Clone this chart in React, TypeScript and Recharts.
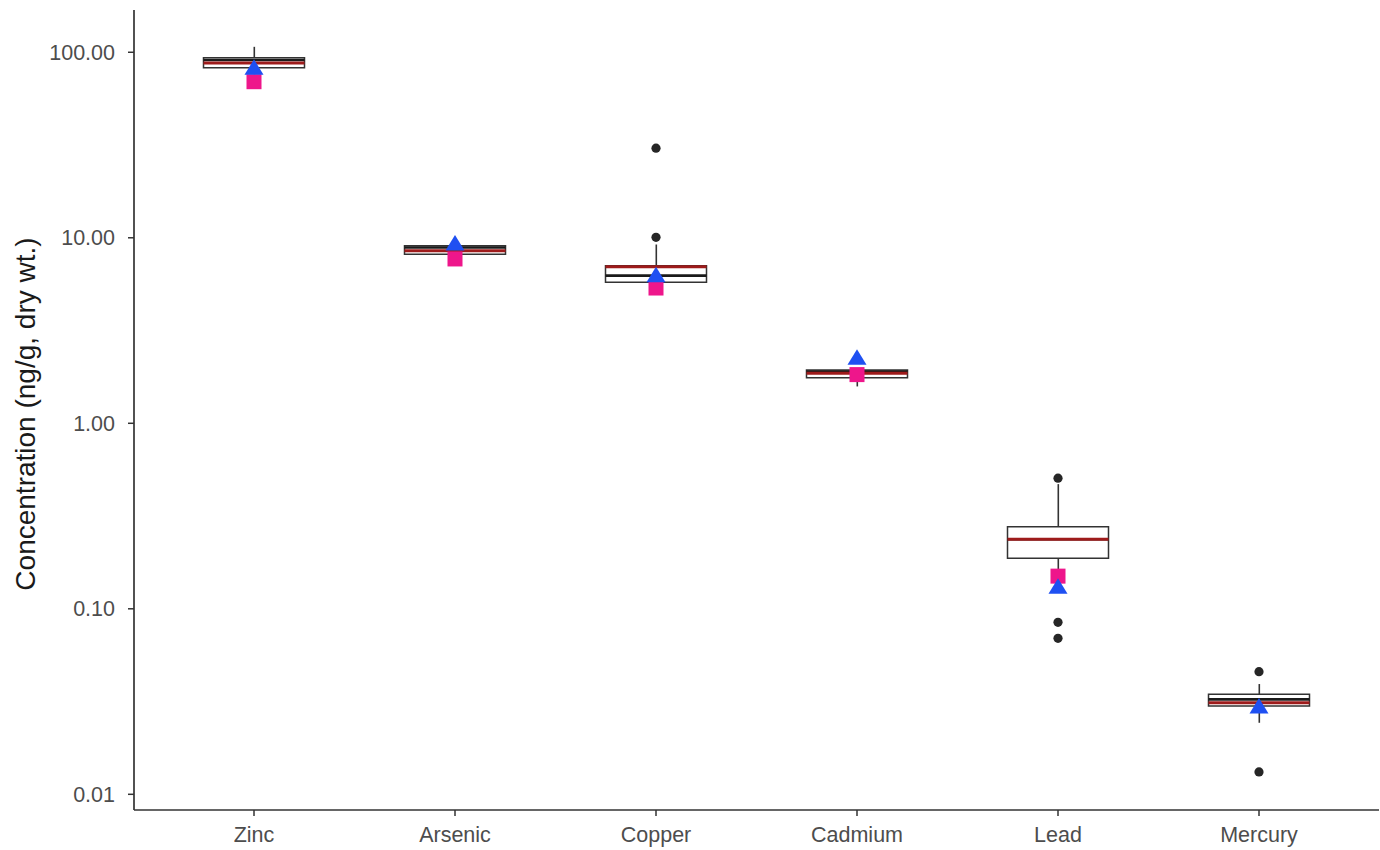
import { ComposedChart, Bar, Scatter, XAxis, YAxis } from 'recharts';

// Trace metal concentrations, ng/g dry weight, summarised per element
const metals = ['Zinc', 'Arsenic', 'Copper', 'Cadmium', 'Lead', 'Mercury'];
const whiskerLow = [76, 8.15, 5.2, 1.58, 0.145, 0.0243];
const quart1 = [82.6, 8.15, 5.75, 1.76, 0.187, 0.0299];
const medians = [90.8, 8.87, 6.25, 1.9, 0.237, 0.0325];
const means = [87.5, 8.52, 6.98, 1.86, 0.237, 0.0312];
const quart3 = [93.5, 9.06, 7.07, 1.94, 0.277, 0.0346];
const whiskerHigh = [107, 9.06, 9.2, 1.96, 0.47, 0.0393];

// points beyond the whiskers
const outlierA = [null, null, 30.4, null, 0.506, 0.0458];
const outlierB = [null, null, 10.06, null, 0.0845, 0.0132];
const outlierC = [null, null, null, null, 0.0693, null];

// comparison values from other studies
const studySquare = [69.4, 7.69, 5.36, 1.83, 0.15, null];
const studyTriangle = [82.1, 9.26, 6.25, 2.24, 0.1306, 0.0296];

const yTicks = [0.01, 0.1, 1, 10, 100];

const data = metals.map((metal, i) => ({
  metal,
  lo: whiskerLow[i],
  q1: quart1[i],
  median: medians[i],
  mean: means[i],
  q3: quart3[i],
  hi: whiskerHigh[i],
  o1: outlierA[i],
  o2: outlierB[i],
  o3: outlierC[i],
  sq: studySquare[i],
  tri: studyTriangle[i],
}));

const BOX_W = 101;
const INK = '#333333';
const axisTick = { fontSize: 21.5, fill: '#4d4d4d' };

const ok = (v: any) => typeof v === 'number' && isFinite(v);

const hLine = (color: string, width: number) => (props: any) => {
  const { cx, cy } = props;
  if (!ok(cx) || !ok(cy)) return <g />;
  return (
    <line x1={cx - BOX_W / 2} x2={cx + BOX_W / 2} y1={cy} y2={cy} stroke={color} strokeWidth={width} />
  );
};

const dot = (props: any) => {
  const { cx, cy } = props;
  if (!ok(cx) || !ok(cy)) return <g />;
  return <circle cx={cx} cy={cy} r={4.6} fill="#262626" />;
};

const square = (props: any) => {
  const { cx, cy } = props;
  if (!ok(cx) || !ok(cy)) return <g />;
  return <rect x={cx - 7.5} y={cy - 7.5} width={15} height={15} fill="#ee168b" />;
};

const triangle = (props: any) => {
  const { cx, cy } = props;
  if (!ok(cx) || !ok(cy)) return <g />;
  return <polygon points={`${cx},${cy - 9} ${cx + 9.5},${cy + 6.5} ${cx - 9.5},${cy + 6.5}`} fill="#1f50f2" />;
};

const yTitle = () => (
  <text
    x={35}
    y={414}
    transform="rotate(-90, 35, 414)"
    textAnchor="middle"
    fontSize={28}
    fill="#1a1a1a"
  >
    Concentration (ng/g, dry wt.)
  </text>
);

export default function App() {
  return (
    <div style={{ position: 'absolute', left: 0, top: 0, background: '#fff', fontFamily: '"Liberation Sans", Arial, sans-serif' }}>
      <ComposedChart width={1380} height={850} data={data} margin={{ top: 10, right: 1, bottom: 0, left: 0 }}>
        <XAxis
          dataKey="metal"
          padding={{ left: 19.5, right: 19.5 }}
          height={40}
          tick={axisTick}
          tickSize={6}
          tickMargin={11}
          axisLine={{ stroke: INK, strokeWidth: 1.7 }}
          tickLine={{ stroke: INK, strokeWidth: 1.5 }}
        />
        <XAxis xAxisId="w" dataKey="metal" padding={{ left: 19.5, right: 19.5 }} hide />
        <YAxis
          scale="log"
          domain={[0.00823, 169]}
          allowDataOverflow
          ticks={yTicks}
          tickFormatter={(v: number) => v.toFixed(2)}
          width={134}
          tick={axisTick}
          tickSize={6}
          tickMargin={13}
          axisLine={{ stroke: INK, strokeWidth: 1.7 }}
          tickLine={{ stroke: INK, strokeWidth: 1.5 }}
          label={{ content: yTitle }}
        />
        <Bar xAxisId="w" dataKey={(d: any) => [d.lo, d.hi]} barSize={1.6} fill={INK} isAnimationActive={false} />
        <Bar
          dataKey={(d: any) => [d.q1, d.q3]}
          barSize={BOX_W}
          fill="#ffffff"
          stroke={INK}
          strokeWidth={1.5}
          isAnimationActive={false}
        />
        <Scatter dataKey="median" shape={hLine('#1a1a1a', 2.6)} isAnimationActive={false} />
        <Scatter dataKey="mean" shape={hLine('#9e1b1b', 3)} isAnimationActive={false} />
        <Scatter dataKey="o1" shape={dot} isAnimationActive={false} />
        <Scatter dataKey="o2" shape={dot} isAnimationActive={false} />
        <Scatter dataKey="o3" shape={dot} isAnimationActive={false} />
        <Scatter dataKey="sq" shape={square} isAnimationActive={false} />
        <Scatter dataKey="tri" shape={triangle} isAnimationActive={false} />
      </ComposedChart>
    </div>
  );
}
